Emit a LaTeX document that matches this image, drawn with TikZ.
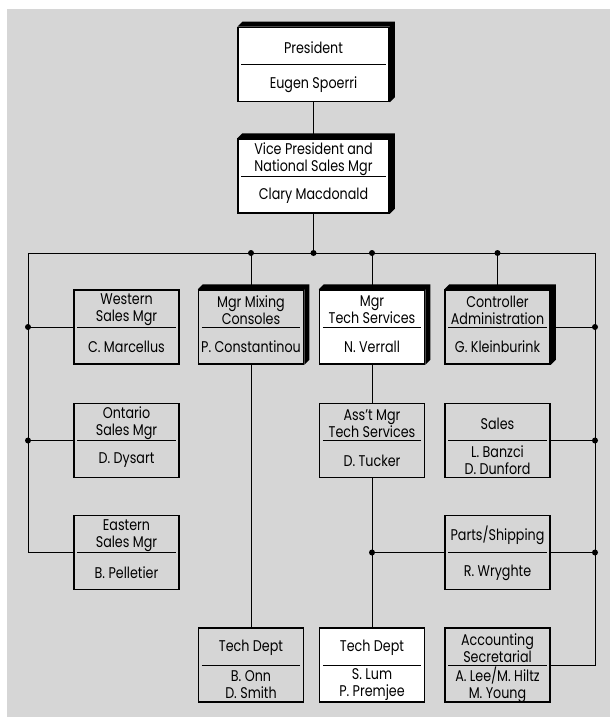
\documentclass[tikz,border=0pt]{standalone}
\usepackage{fontspec}
\setmainfont{Poppins}[FakeStretch=0.82]
\usepackage{xcolor}
\usepackage{tikz}
\usetikzlibrary{positioning}

\definecolor{paper}{RGB}{214,214,214}

\tikzset{
  chart/.style={draw, line width=1.5pt, minimum width=105pt, minimum height=74pt,
    inner sep=0pt, fill=paper},
  wide/.style={minimum width=151pt},
  lit/.style={fill=white},
  boxtext/.style={font=\fontsize{15.5}{17}\selectfont, align=center, inner sep=0pt},
  wire/.style={line width=0.9pt},
}

% box with title above the rule and person below it
\newcommand{\chartbox}[5][]{%
  \node[chart,#1] (#2) at (#3) {};
  \node[boxtext] (#2-title) at ([yshift=17pt]#2.center) {#4};
  \node[boxtext] (#2-who) at ([yshift=-20pt]#2.center) {#5};
  \draw[line width=0.9pt] ([xshift=4pt]#2.west) -- ([xshift=-4pt]#2.east);
}
% black top and right faces
\newcommand{\raised}[1]{%
  \fill (#1.north west) -- ++(5pt,5pt) -- ([shift={(5pt,5pt)}]#1.north east)
    -- ([shift={(5pt,5pt)}]#1.south east) -- (#1.south east) -- (#1.north east) -- cycle;
}
\newcommand{\joint}[1]{\fill #1 circle (3pt);}

\begin{document}
\begin{tikzpicture}[x=1pt, y=-1pt]

% page
\fill[white] (0,0) rectangle (610,717);
\fill[paper] (7,9) rectangle (610,717);
\useasboundingbox (0,0) rectangle (610,717);

% top of the chart
\chartbox[wide,lit]{pres}{313.5,64.5}{President}{Eugen Spoerri}
\chartbox[wide,lit]{vp}{313.5,176}{Vice President and\\National Sales Mgr}{Clary Macdonald}

% first row
\chartbox{western}{126.5,327}{Western\\Sales Mgr}{C. Marcellus}
\chartbox{mixing}{251,327}{Mgr Mixing\\Consoles}{P. Constantinou}
\chartbox[lit]{techsvc}{372,327}{Mgr\\Tech Services}{N. Verrall}
\chartbox{ctrl}{497.5,327}{Controller\\Administration}{G. Kleinburink}

% second row
\chartbox{ontario}{126.5,440.5}{Ontario\\Sales Mgr}{D. Dysart}
\chartbox{asst}{372,440.5}{Ass't Mgr\\Tech Services}{D. Tucker}
\chartbox{sales}{497.5,440.5}{Sales}{L. Banzci\\D. Dunford}

% third row
\chartbox{eastern}{126.5,552.5}{Eastern\\Sales Mgr}{B. Pelletier}
\chartbox{parts}{497.5,552.5}{Parts/Shipping}{R. Wryghte}

% bottom row
\chartbox{techA}{251,665}{Tech Dept}{B. Onn\\D. Smith}
\chartbox[lit]{techB}{372,665}{Tech Dept}{S. Lum\\P. Premjee}
\chartbox{acct}{497.5,665}{Accounting\\Secretarial}{A. Lee/M. Hiltz\\M. Young}

\raised{pres}
\raised{vp}
\raised{mixing}
\raised{techsvc}
\raised{ctrl}

% bus lines
\coordinate (busL) at (28,253);
\coordinate (busR) at (595,253);
\draw[wire] (pres) -- (vp);
\draw[wire] (vp) -- (vp |- busL);
\draw[wire] (busL) -- (busR);
\draw[wire] (busL) |- (eastern);
\draw[wire] (busR) |- (acct);

% branches
\draw[wire] (western) -- (western -| busL);
\draw[wire] (ontario) -- (ontario -| busL);
\draw[wire] (mixing) -- (mixing |- busL);
\draw[wire] (techsvc) -- (techsvc |- busL);
\draw[wire] (ctrl) -- (ctrl |- busL);
\draw[wire] (ctrl) -- (ctrl -| busR);
\draw[wire] (sales) -- (sales -| busR);
\draw[wire] (parts) -- (parts -| busR);
\draw[wire] (parts) -- (parts -| asst);
\draw[wire] (mixing) -- (techA);
\draw[wire] (techsvc) -- (asst);
\draw[wire] (asst) -- (techB);

% junction dots
\joint{(vp |- busL)}
\joint{(mixing |- busL)}
\joint{(techsvc |- busL)}
\joint{(ctrl |- busL)}
\joint{(western -| busL)}
\joint{(ontario -| busL)}
\joint{(ctrl -| busR)}
\joint{(sales -| busR)}
\joint{(parts -| busR)}
\joint{(parts -| asst)}

\end{tikzpicture}
\end{document}
